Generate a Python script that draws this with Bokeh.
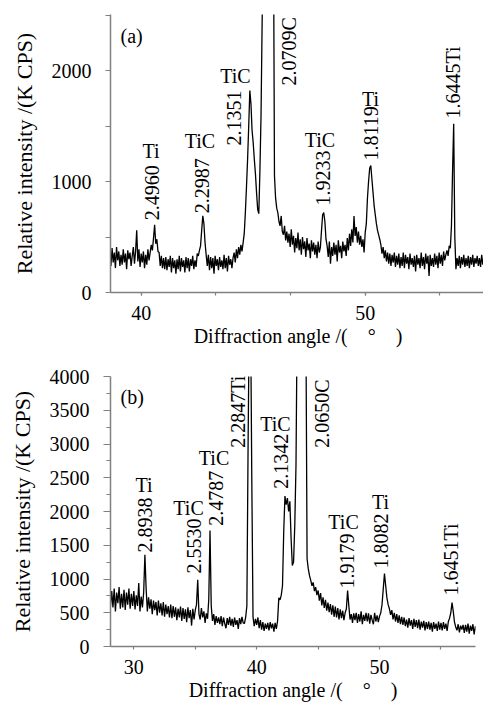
import math
import numpy as np
from bokeh.plotting import figure
from bokeh.models import ColumnDataSource, FixedTicker
from bokeh.layouts import column
from bokeh.core.properties import value
from bokeh.embed import file_html
from bokeh.resources import INLINE

FONT = "Liberation Serif"

# ---------------- Panel (a) data ----------------
scan_a_start, scan_a_step = 38.60, 0.05
intensity_a = [
    350, 240, 400, 270, 360, 220, 410, 290, 370, 240,
    340, 250, 390, 270, 350, 210, 380, 300, 360, 240,
    330, 410, 260, 370, 560, 280, 390, 230, 350, 270,
    370, 220, 340, 250, 390, 290, 360, 430, 380, 490,
    610, 440, 480, 370, 360, 240, 330, 220, 310, 210,
    320, 200, 300, 230, 330, 180, 310, 220, 290, 170,
    300, 210, 330, 190, 310, 230, 290, 180, 320, 220,
    310, 190, 300, 240, 330, 210, 290, 230, 350, 330,
    380, 420, 560, 690, 620, 450, 340, 240, 340, 200,
    320, 220, 310, 170, 330, 240, 300, 200, 320, 230,
    290, 210, 340, 220, 310, 190, 330, 250, 300, 220,
    310, 360, 270, 390, 310, 410, 340, 430, 370, 450,
    530, 720, 950, 1200, 1500, 1820, 1700, 1460, 1350, 1200,
    1070, 900, 750, 710, 1100, 1600, 2450, 3200, 3600, 3900,
    4000, 4200, 4200, 4000, 3800, 3600, 3500, 1050, 850, 760,
    720, 640, 600, 690, 550, 520, 600, 470, 550, 450,
    530, 410, 570, 430, 510, 360, 490, 400, 540, 380,
    480, 340, 500, 390, 460, 320, 490, 380, 440, 310,
    470, 370, 450, 340, 430, 310, 460, 360, 410, 560,
    700, 720, 640, 480, 420, 320, 460, 260, 410, 330,
    450, 340, 430, 280, 470, 360, 420, 310, 460, 370,
    430, 330, 490, 380, 530, 420, 570, 450, 690, 510,
    590, 450, 550, 430, 510, 410, 480, 360, 540, 620,
    850, 1000, 1120, 1145, 1020, 900, 780, 700, 620, 560,
    520, 480, 430, 350, 410, 310, 380, 280, 360, 260,
    350, 240, 340, 270, 360, 230, 330, 250, 350, 220,
    320, 240, 360, 220, 340, 260, 320, 210, 350, 250,
    310, 230, 330, 190, 340, 250, 310, 220, 360, 240,
    320, 210, 350, 260, 330, 150, 340, 240, 310, 230,
    350, 250, 330, 220, 360, 260, 340, 240, 370, 290,
    340, 380, 330, 420, 400, 600, 1100, 1520, 500, 210,
    310, 240, 330, 220, 320, 250, 340, 230, 310, 240,
    330, 220, 320, 250, 340, 230, 310, 260, 330, 240,
    310, 230, 340, 250, 320, 220, 330, 260, 300, 240,
]
angle_a = np.round(scan_a_start + scan_a_step * np.arange(len(intensity_a)), 2)

d_text_a = ["2.4960", "2.2987", "2.1351", "2.0709C", "1.9233", "1.8119", "1.6445Ti"]
phase_text_a = ["Ti", "TiC", "TiC", "TiC", "Ti"]

# ---------------- Panel (b) data ----------------
scan_b_start, scan_b_step = 28.0, 0.1
intensity_b = [
    950, 600, 820, 580, 860, 520, 800, 640, 880, 560,
    780, 580, 840, 540, 800, 620, 860, 560, 780, 600,
    820, 550, 760, 600, 940, 520, 740, 580, 800, 1360,
    860, 520, 730, 560, 700, 480, 680, 540, 660, 460,
    680, 500, 640, 460, 660, 440, 620, 480, 600, 430,
    620, 420, 600, 440, 580, 390, 560, 430, 590, 380,
    570, 410, 550, 360, 580, 420, 540, 310, 560, 400,
    540, 620, 990, 480, 400, 570, 430, 520, 350, 490,
    410, 700, 1720, 600, 380, 480, 320, 450, 350, 430,
    330, 450, 300, 430, 340, 270, 420, 320, 440, 310,
    410, 290, 430, 320, 390, 260, 420, 330, 440, 350,
    340, 430, 600, 3000, 5000, 5000, 2500, 440, 300, 410,
    320, 430, 270, 390, 250, 360, 230, 340, 260, 350,
    240, 360, 270, 340, 220, 350, 260, 380, 720, 690,
    760, 900, 1700, 2230, 2100, 2200, 2000, 2150, 1600, 1200,
    1250, 1800, 2700, 5000, 5000, 5000, 5000, 5000, 5000, 5000,
    5000, 1300, 1150, 1050, 980, 900, 950, 820, 880, 760,
    830, 680, 790, 610, 730, 570, 690, 530, 650, 510,
    630, 470, 610, 440, 590, 430, 570, 400, 550, 420,
    530, 390, 500, 560, 830, 600, 400, 480, 350, 490,
    390, 500, 350, 480, 370, 520, 330, 470, 380, 500,
    370, 490, 340, 470, 390, 330, 500, 370, 460, 360,
    450, 500, 620, 850, 1080, 900, 720, 620, 560, 470,
    540, 400, 500, 370, 480, 350, 460, 330, 440, 320,
    430, 300, 400, 280, 420, 310, 390, 260, 410, 290,
    390, 270, 400, 250, 370, 280, 380, 240, 360, 260,
    370, 250, 350, 220, 360, 260, 340, 230, 370, 250,
    350, 240, 360, 260, 340, 230, 370, 420, 500, 650,
    520, 360, 290, 240, 330, 210, 310, 250, 320, 200,
    320, 220, 340, 190, 310, 230, 330, 180, 300, 220,
]
angle_b = np.round(scan_b_start + scan_b_step * np.arange(len(intensity_b)), 2)

d_text_b = ["2.8938", "2.5530", "2.4787", "2.2847Ti", "2.1342", "2.0650C",
            "1.9179", "1.8082", "1.6451Ti"]
phase_text_b = ["Ti", "TiC", "TiC", "TiC", "TiC", "Ti"]

# ---------------- label layout (annotation placement) ----------------
d_pos_a = dict(x=[40.50, 42.71, 44.14, 46.62, 48.12, 50.28, 53.92],
               y=[650, 713, 1325, 1865, 785, 1190, 1568])
ph_pos_a = dict(x=[40.44, 42.625, 44.21, 47.98, 50.24],
                y=[1271, 1361, 1955, 1370, 1748])
d_pos_b = dict(x=[30.91, 34.90, 36.65, 38.48, 41.94, 45.32, 47.35, 50.12, 55.82],
               y=[1391, 1080, 1790, 2945, 2338, 2945, 858, 1154, 755])
ph_pos_b = dict(x=[30.83, 34.45, 36.53, 41.53, 47.07, 50.08],
                y=[2397, 2049, 2797, 3292, 1850, 2138])

AXIS_GRAY = "#808080"


def style(p):
    p.outline_line_color = None
    p.xgrid.visible = False
    p.ygrid.visible = False
    p.background_fill_color = "white"
    p.border_fill_color = "white"
    for ax in (p.xaxis[0], p.yaxis[0]):
        ax.axis_line_color = AXIS_GRAY
        ax.axis_line_width = 1.5
        ax.major_tick_line_color = AXIS_GRAY
        ax.minor_tick_line_color = AXIS_GRAY
        ax.major_tick_line_width = 1.2
        ax.minor_tick_line_width = 1.2
        ax.major_tick_in = 0
        ax.minor_tick_in = 0
        ax.major_label_text_font = FONT
        ax.major_label_text_font_size = "20px"
        ax.major_label_text_color = "black"
        ax.axis_label_text_font = FONT
        ax.axis_label_text_font_style = "normal"
        ax.axis_label_text_color = "black"
    p.xaxis[0].axis_label_text_font_size = "20px"
    p.yaxis[0].axis_label_text_font_size = "22px"


def add_labels(p, d_text, d_pos, ph_text, ph_pos, tag, tag_pos):
    src_d = ColumnDataSource(dict(x=d_pos["x"], y=d_pos["y"], t=d_text))
    p.text(x="x", y="y", text="t", source=src_d, angle=math.pi / 2,
           text_align="left", text_baseline="middle",
           text_font=value(FONT), text_font_size=value("20px"), text_color="black")
    src_p = ColumnDataSource(dict(x=ph_pos["x"], y=ph_pos["y"], t=ph_text))
    p.text(x="x", y="y", text="t", source=src_p,
           text_align="center", text_baseline="middle",
           text_font=value(FONT), text_font_size=value("20px"), text_color="black")
    p.text(x=[tag_pos[0]], y=[tag_pos[1]], text=[tag],
           text_align="left", text_baseline="middle",
           text_font=value(FONT), text_font_size=value("20px"), text_color="black")


XLABEL = "Diffraction angle /(\u2003\u00b0\u2003)"
YLABEL = "Relative intensity /(K CPS)"

# ---------------- figure (a) ----------------
pa = figure(frame_width=375, frame_height=278,
            min_border_left=108, min_border_right=0,
            min_border_top=14, min_border_bottom=58,
            x_range=(38.63, 55.37), y_range=(0, 2505),
            output_backend="svg", toolbar_location=None)
pa.line(angle_a, intensity_a, line_color="black", line_width=1.3)
style(pa)
pa.xaxis[0].ticker = FixedTicker(ticks=[40, 50], minor_ticks=[40, 43.33, 46.67, 50, 53.33])
pa.yaxis[0].ticker = FixedTicker(ticks=[0, 1000, 2000], minor_ticks=[500, 1500, 2500])
pa.xaxis[0].major_tick_out = 3
pa.xaxis[0].minor_tick_out = 3
pa.yaxis[0].major_tick_out = 5
pa.yaxis[0].minor_tick_out = 5
pa.xaxis[0].major_label_standoff = 10
pa.yaxis[0].major_label_standoff = 14
pa.xaxis[0].axis_label = XLABEL
pa.yaxis[0].axis_label = YLABEL
pa.xaxis[0].axis_label_standoff = 2
pa.yaxis[0].axis_label_standoff = 12
add_labels(pa, d_text_a, d_pos_a, phase_text_a, ph_pos_a, "(a)", (39.08, 2314))

# ---------------- figure (b) ----------------
pb = figure(frame_width=365, frame_height=270,
            min_border_left=110, min_border_right=8,
            min_border_top=26, min_border_bottom=56,
            x_range=(28.1, 57.81), y_range=(0, 4000),
            output_backend="svg", toolbar_location=None)
pb.line(angle_b, intensity_b, line_color="black", line_width=1.3)
style(pb)
pb.xaxis[0].ticker = FixedTicker(ticks=[30, 40, 50], minor_ticks=[35, 45, 55])
pb.yaxis[0].ticker = FixedTicker(ticks=list(range(0, 4001, 500)),
                                 minor_ticks=list(range(250, 4000, 500)))
pb.xaxis[0].major_tick_out = 3
pb.xaxis[0].minor_tick_out = 3
pb.yaxis[0].major_tick_out = 7
pb.yaxis[0].minor_tick_out = 4
pb.xaxis[0].major_label_standoff = 10
pb.yaxis[0].major_label_standoff = 14
pb.xaxis[0].axis_label = XLABEL
pb.yaxis[0].axis_label = YLABEL
pb.xaxis[0].axis_label_standoff = 2
pb.yaxis[0].axis_label_standoff = 12
add_labels(pb, d_text_b, d_pos_b, phase_text_b, ph_pos_b, "(b)", (28.92, 3699))

layout = column(pa, pb)
open("out.html", "w").write(file_html(layout, INLINE))
